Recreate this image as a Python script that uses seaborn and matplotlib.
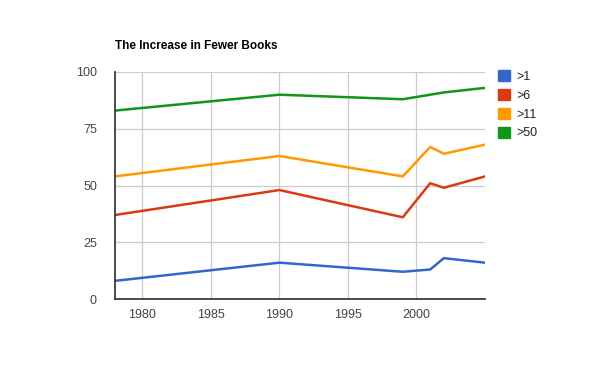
import matplotlib
matplotlib.use("Agg")
import matplotlib.pyplot as plt
import seaborn as sns
import pandas as pd

years = [1978, 1990, 1999, 2001, 2002, 2005]
s_gt1 = [8, 16, 12, 13, 18, 16]
s_gt6 = [37, 48, 36, 51, 49, 54]
s_gt11 = [54, 63, 54, 67, 64, 68]
s_gt50 = [83, 90, 88, 90, 91, 93]
series_names = [">1", ">6", ">11", ">50"]
colors = ["#3366cc", "#dc3912", "#ff9900", "#109618"]
title = "The Increase in Fewer Books"
x_ticks = [1980, 1985, 1990, 1995, 2000]
y_ticks = [0, 25, 50, 75, 100]

rows = []
for name, vals in zip(series_names, [s_gt1, s_gt6, s_gt11, s_gt50]):
    for y, v in zip(years, vals):
        rows.append({"year": y, "value": v, "series": name})
df = pd.DataFrame(rows)

sns.set_theme(style="white")
plt.rcParams["font.family"] = ["Liberation Sans", "DejaVu Sans"]

fig = plt.figure(figsize=(6, 3.71), dpi=100)
ax = fig.add_axes([115/600, 72/371, 370/600, 227/371])
sns.lineplot(data=df, x="year", y="value", hue="series", hue_order=series_names,
             palette=colors, linewidth=1.8, ax=ax, legend=False, sort=False)

ax.set_xlim(1978, 2005)
ax.set_ylim(0, 100)
ax.set_xticks(x_ticks)
ax.set_yticks(y_ticks)
ax.grid(True, color="#cccccc", linewidth=0.9)
ax.set_axisbelow(True)
for s in ["top", "right"]:
    ax.spines[s].set_visible(False)
ax.spines["left"].set_color("#333333")
ax.spines["bottom"].set_color("#333333")
ax.tick_params(axis="both", length=0, labelsize=9, labelcolor="#444444")
ax.tick_params(axis="y", pad=13)
ax.tick_params(axis="x", pad=7)
ax.set_xlabel("")
ax.set_ylabel("")

fig.text(115/600, 1 - 46/371, title, fontsize=8.5, fontweight="bold", color="black",
         va="center", ha="left")

from matplotlib.patches import Patch
handles = [Patch(facecolor=c, edgecolor=c) for c in colors]
leg = fig.legend(handles, series_names, loc="upper left", bbox_to_anchor=(498/600, 1 - 70/371),
                 frameon=False, fontsize=9, handlelength=0.95, handleheight=0.95,
                 handletextpad=0.55, labelspacing=0.5, borderaxespad=0, borderpad=0)
for t in leg.get_texts():
    t.set_color("#222222")

fig.savefig("out.png", dpi=100)
